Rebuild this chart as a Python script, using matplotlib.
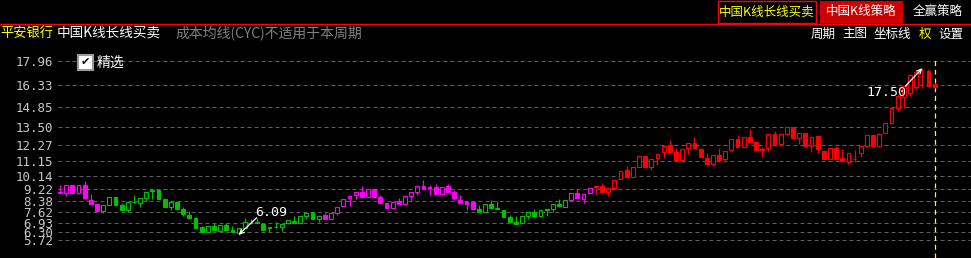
import matplotlib
matplotlib.use('Agg')
import matplotlib.pyplot as plt
from matplotlib.patches import Rectangle
from matplotlib.lines import Line2D
import numpy as np

W, H = 971, 258

# ---------------- data ----------------
opens = [9.02, 8.93, 9.50, 8.93, 9.50, 8.47, 8.20, 7.74, 8.13, 8.68,
         8.13, 7.81, 8.33, 8.25, 8.63, 9.16, 9.14, 8.54, 8.02, 8.36,
         7.86, 7.45, 7.26, 6.63, 6.30, 6.71, 6.37, 6.76, 6.42, 6.20,
         6.54, 6.92, 6.94, 6.83, 6.62, 6.62, 6.60, 6.88, 7.06, 6.92,
         7.38, 7.63, 7.15, 7.45, 7.15, 7.61, 8.06, 8.61, 8.80, 9.02,
         8.70, 9.21, 8.66, 8.29, 7.91, 8.43, 8.18, 8.77, 9.04, 9.43,
         9.35, 9.35, 8.89, 9.43, 9.00, 8.47, 8.32, 8.36, 7.86, 7.67,
         8.18, 7.95, 7.79, 7.31, 6.99, 6.92, 7.40, 7.63, 7.40, 7.86,
         7.86, 8.20, 7.97, 8.47, 8.93, 8.54, 8.93, 9.43, 9.43, 9.04,
         9.32, 9.89, 10.53, 10.07, 10.75, 11.47, 10.75, 11.33, 11.74, 12.24,
         11.78, 11.21, 12.01, 12.38, 11.97, 11.37, 10.92, 11.56, 11.26, 11.90,
         12.65, 12.08, 12.77, 12.43, 11.97, 12.01, 13.00, 12.31, 13.00, 13.49,
         12.70, 13.04, 12.19, 12.86, 11.83, 11.26, 12.01, 11.33, 11.10, 11.30,
         11.71, 12.17, 12.93, 12.17, 13.08, 13.77, 14.75, 15.55, 15.78, 16.23,
         16.95, 17.31, 16.40]
highs = [9.50, 9.52, 9.52, 9.52, 9.78, 8.87, 8.22, 8.13, 8.68, 8.68,
         8.26, 8.32, 8.82, 8.59, 9.00, 9.16, 9.14, 8.54, 8.32, 8.36,
         8.02, 7.72, 7.30, 6.72, 6.70, 6.90, 6.76, 6.90, 6.70, 6.54,
         7.22, 7.20, 7.24, 6.83, 6.62, 6.95, 6.83, 7.10, 7.38, 7.38,
         7.61, 7.63, 7.40, 7.61, 7.61, 7.97, 8.52, 8.77, 9.02, 9.43,
         9.21, 9.21, 8.84, 8.29, 8.36, 8.61, 8.75, 9.00, 9.43, 9.84,
         9.50, 9.57, 9.39, 9.60, 9.16, 8.82, 8.32, 8.36, 8.13, 8.18,
         8.50, 8.43, 7.79, 7.45, 7.35, 7.38, 7.63, 7.86, 7.79, 7.86,
         8.18, 8.52, 8.45, 8.93, 9.23, 8.86, 9.32, 9.43, 9.61, 9.28,
         9.82, 10.46, 10.78, 10.71, 11.47, 11.47, 11.26, 11.65, 12.17, 12.60,
         12.03, 11.97, 12.38, 12.77, 12.05, 11.67, 11.56, 12.01, 11.83, 12.65,
         12.92, 12.76, 13.36, 12.43, 12.13, 13.00, 13.20, 13.00, 13.49, 13.49,
         13.04, 13.04, 12.81, 12.86, 11.83, 12.01, 12.17, 11.97, 11.67, 11.90,
         12.17, 12.93, 12.98, 13.08, 13.73, 14.75, 15.65, 16.30, 17.08, 17.30,
         17.50, 17.42, 16.45]
lows = [8.93, 8.77, 8.93, 8.85, 8.54, 8.20, 7.74, 7.60, 8.13, 8.13,
        7.81, 7.67, 8.27, 8.02, 8.41, 8.54, 8.54, 8.00, 7.81, 7.86,
        7.40, 7.26, 6.58, 6.30, 6.30, 6.40, 6.37, 6.42, 6.26, 6.09,
        6.54, 6.85, 6.92, 6.42, 6.30, 6.58, 6.37, 6.80, 6.92, 6.92,
        7.17, 7.15, 6.95, 7.15, 7.15, 7.45, 8.06, 8.08, 8.57, 8.70,
        8.70, 8.70, 8.29, 7.91, 7.91, 8.18, 8.18, 8.43, 8.84, 9.23,
        8.82, 8.89, 8.89, 9.04, 8.50, 8.25, 7.79, 7.86, 7.67, 7.67,
        7.95, 7.84, 7.33, 6.99, 6.85, 6.92, 7.19, 7.40, 7.32, 7.40,
        7.67, 8.00, 7.97, 8.47, 8.59, 8.27, 8.93, 8.82, 9.04, 8.77,
        9.32, 9.89, 10.07, 10.07, 10.75, 10.71, 10.53, 10.89, 11.38, 11.78,
        11.21, 11.21, 11.60, 12.01, 11.40, 10.92, 10.80, 11.21, 11.05, 11.90,
        12.08, 12.08, 12.47, 11.85, 11.44, 11.80, 12.31, 12.20, 13.00, 12.70,
        12.31, 12.19, 11.74, 11.67, 11.26, 11.26, 11.26, 11.14, 10.95, 11.10,
        11.40, 12.17, 12.17, 12.17, 13.08, 13.77, 14.55, 14.80, 15.60, 16.01,
        16.15, 16.28, 16.15]
closes = [8.95, 9.50, 8.93, 9.50, 8.63, 8.22, 7.74, 8.13, 8.68, 8.13,
          7.81, 8.32, 8.31, 8.59, 9.00, 9.12, 8.54, 8.00, 8.32, 7.86,
          7.49, 7.26, 6.58, 6.30, 6.70, 6.44, 6.76, 6.42, 6.26, 6.54,
          6.95, 6.90, 6.92, 6.42, 6.58, 6.64, 6.83, 7.10, 6.92, 7.38,
          7.61, 7.15, 7.40, 7.15, 7.61, 7.97, 8.52, 8.75, 9.02, 8.70,
          9.21, 8.70, 8.29, 7.91, 8.36, 8.18, 8.75, 9.00, 9.43, 9.23,
          9.28, 8.89, 9.39, 9.04, 8.59, 8.25, 8.22, 7.86, 7.67, 8.18,
          7.95, 7.86, 7.33, 6.99, 6.85, 7.38, 7.63, 7.40, 7.79, 7.79,
          8.18, 8.09, 8.45, 8.93, 8.59, 8.86, 9.32, 9.36, 9.04, 9.28,
          9.82, 10.46, 10.07, 10.71, 11.47, 10.71, 11.26, 11.65, 12.17, 11.78,
          11.21, 11.97, 12.38, 12.01, 11.40, 10.92, 11.56, 11.21, 11.83, 12.65,
          12.08, 12.76, 12.47, 11.90, 11.93, 13.00, 12.31, 13.00, 13.49, 12.70,
          13.04, 12.19, 12.81, 11.97, 11.26, 12.01, 11.26, 11.14, 11.67, 11.28,
          12.17, 12.93, 12.17, 12.98, 13.73, 14.75, 15.60, 16.25, 17.04, 17.26,
          17.00, 16.28, 16.22]
# strategy state of each stretch of candles: (state, number of candles)
state_runs = [('magenta', 7), ('green', 36), ('magenta', 25),
              ('green', 15), ('magenta', 4), ('red', 56)]
grid_levels = [17.96, 16.33, 14.85, 13.50, 12.27, 11.15, 10.14,
               9.22, 8.38, 7.62, 6.93, 6.30, 5.72]
grid_labels = ['17.96', '16.33', '14.85', '13.50', '12.27', '11.15', '10.14',
               '9.22', '8.38', '7.62', '6.93', '6.30', '5.72']

CJK = ['Noto Sans CJK SC', 'DejaVu Sans']
MONO = 'DejaVu Sans Mono'

fig = plt.figure(figsize=(W / 100, H / 100), dpi=100, facecolor='black')


def fx(px):
    return px / W


def fy(py):
    return 1 - py / H


# ---------------- price chart ----------------
ax = fig.add_axes([fx(58), 0, fx(971) - fx(58), (258 - 45) / 258])
ax.set_facecolor('black')
ax.set_xlim(-0.325, 147.9)
ax.set_ylim(4.50, 19.09)
for s in ax.spines.values():
    s.set_visible(False)
ax.set_xticks([])
ax.set_yticks(grid_levels)
ax.set_yticklabels(grid_labels, fontfamily=MONO, fontsize=9, color='#c8c8c8')
ax.tick_params(axis='y', length=0, pad=3.6)
for lv in grid_levels:
    ax.axhline(lv, color='#5e5e5e', lw=0.72, linestyle=(0, (4, 3)), zorder=0)

colmap = {'magenta': '#ff00ff', 'green': '#00c000', 'red': '#ff0000'}
colors = []
for name, n in state_runs:
    colors += [colmap[name]] * n

o = np.array(opens)
hh = np.array(highs)
ll = np.array(lows)
c = np.array(closes)
x = np.arange(len(o))

ax.vlines(x, ll, hh, colors=colors, lw=0.9, zorder=2)
up = c >= o
bottoms = np.minimum(o, c)
heights = np.maximum(np.abs(c - o), 0.03)
faces = ['black' if u else col for u, col in zip(up, colors)]
ax.bar(x, heights, bottom=bottoms, width=0.62, color=faces,
       edgecolor=colors, linewidth=0.8, zorder=3)

# last-bar marker
ax.axvline(len(o) - 1 + 0.1, ymin=0, ymax=0.94, color='#ffff00', lw=0.9,
           linestyle=(0, (4, 3)), zorder=1)

# min / max annotations
i_lo = int(np.argmin(ll))
i_hi = int(np.argmax(hh))
arrow = dict(arrowstyle='->', color='white', lw=0.9, shrinkA=0, shrinkB=0,
             mutation_scale=8)
ax.annotate('', xy=(i_lo, ll[i_lo]), xytext=(18, 17), textcoords='offset pixels',
            arrowprops=arrow, zorder=5)
ax.annotate(f'{ll[i_lo]:.2f}', xy=(i_lo, ll[i_lo]), xytext=(16, 19),
            textcoords='offset pixels', ha='left', va='baseline', color='white',
            fontsize=9.5, fontfamily=MONO, zorder=5)
ax.annotate('', xy=(i_hi, hh[i_hi]), xytext=(-17, -18), textcoords='offset pixels',
            arrowprops=arrow, zorder=5)
ax.annotate(f'{hh[i_hi]:.2f}', xy=(i_hi, hh[i_hi]), xytext=(-16, -28),
            textcoords='offset pixels', ha='right', va='baseline', color='white',
            fontsize=9.5, fontfamily=MONO, zorder=5)

# ---------------- header ----------------
fig.add_artist(Line2D([0, 1], [fy(24), fy(24)], transform=fig.transFigure,
                      color='#ff0000', lw=1))
fig.add_artist(Rectangle((fx(718), fy(23)), fx(98), 22 / H, transform=fig.transFigure,
                         fill=False, edgecolor='#ff0000', lw=1))
fig.text(fx(767), fy(12), '中国K线长线买卖', color='#ffff00', ha='center', va='center',
         fontsize=9, family=CJK)
fig.add_artist(Rectangle((fx(820), fy(23)), fx(83), 22 / H, transform=fig.transFigure,
                         facecolor='#cc0000', edgecolor='none'))
fig.text(fx(861.5), fy(12), '中国K线策略', color='white', ha='center', va='center',
         fontsize=9, family=CJK)
fig.text(fx(938), fy(12), '全赢策略', color='white', ha='center', va='center',
         fontsize=9, family=CJK)

fig.text(fx(0), fy(33), '平安银行', color='#ffff00', ha='left', va='center',
         fontsize=9.5, family=CJK)
fig.text(fx(57), fy(33), '中国K线长线买卖', color='white', ha='left', va='center',
         fontsize=9.8, family=CJK)
fig.text(fx(175), fy(33), '成本均线(CYC)不适用于本周期', color='#808080', ha='left',
         va='center', fontsize=10, family=CJK)

for label, cx, col in [('周期', 823, 'white'), ('主图', 854.5, 'white'),
                       ('坐标线', 892.5, 'white'), ('权', 925, '#ffff00'),
                       ('设置', 950.5, 'white')]:
    fig.text(fx(cx), fy(34), label, color=col, ha='center', va='center',
             fontsize=9, family=CJK)

# check box
fig.add_artist(Rectangle((fx(78), fy(70)), fx(15), 15 / H, transform=fig.transFigure,
                         facecolor='white', edgecolor='#9a9a9a', lw=1.5))
fig.text(fx(85.5), fy(62.5), '✔', color='black', ha='center', va='center',
         fontsize=8, family='DejaVu Sans')
fig.text(fx(97), fy(63), '精选', color='white', ha='left', va='center',
         fontsize=10, family=CJK)

fig.savefig('out.png', dpi=100, facecolor='black')
